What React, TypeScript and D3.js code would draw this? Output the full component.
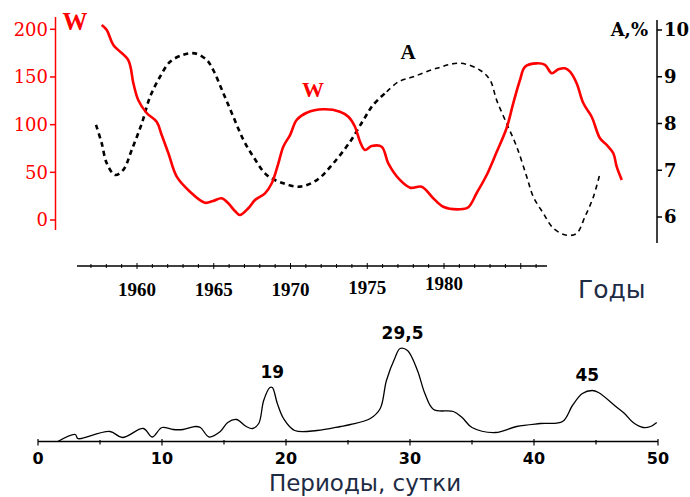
import React from "react";
import * as d3 from "d3";

// ---- Data: sunspot number W and amplitude A vs years ----
const wYears = [1957.7, 1958.03, 1958.46, 1959.43, 1959.76, 1960.08, 1960.63, 1961.28, 1961.61, 1962.04, 1962.59, 1963.45, 1964.43, 1964.95, 1965.52, 1965.95, 1966.38, 1966.71, 1967.25, 1967.69, 1968.34, 1968.78, 1969.21, 1969.53, 1969.97, 1970.4, 1971.06, 1972.14, 1973.22, 1973.77, 1974.2, 1974.53, 1974.85, 1975.29, 1975.94, 1976.37, 1977.13, 1977.79, 1978.55, 1979.3, 1979.95, 1981.04, 1981.58, 1982.13, 1982.78, 1983.43, 1984.08, 1984.51, 1984.95, 1985.28, 1986.04, 1986.58, 1987.02, 1987.45, 1987.88, 1988.21, 1988.64, 1989.08, 1989.62, 1990.16, 1990.6, 1991.03, 1991.25, 1991.58];
const wValues = [204.5, 199.3, 183.5, 167.8, 143.7, 125.9, 112.2, 103.1, 89.1, 70.3, 45.4, 29.7, 18.1, 19.9, 22.8, 17.5, 9.4, 5.2, 12.3, 21.0, 28.0, 38.5, 59.5, 76.9, 89.1, 104.9, 112.5, 116.1, 113.6, 108.3, 97.8, 82.1, 73.4, 77.6, 76.9, 59.5, 42.0, 33.9, 34.9, 22.8, 13.9, 11.2, 13.3, 28.3, 47.2, 71.3, 96.5, 122.4, 146.8, 160.8, 164.3, 162.6, 153.9, 158.0, 159.1, 155.5, 143.4, 122.4, 108.3, 85.7, 78.7, 70.0, 55.9, 42.0];

const aYears = [1957.33, 1957.7, 1958.03, 1958.57, 1959.11, 1959.65, 1960.31, 1960.85, 1961.5, 1962.15, 1963.02, 1963.78, 1964.54, 1964.97, 1965.62, 1966.27, 1966.93, 1967.58, 1968.45, 1969.53, 1970.62, 1971.71, 1972.79, 1973.88, 1974.74, 1975.39, 1976.27, 1977.02, 1978.0, 1979.52, 1981.04, 1982.35, 1983.0, 1983.43, 1984.08, 1984.74, 1985.39, 1985.82, 1986.47, 1987.12, 1987.99, 1988.64, 1989.19, 1989.73, 1990.16];
const aValues = [7.97, 7.58, 7.15, 6.9, 7.01, 7.43, 8.0, 8.57, 9.0, 9.32, 9.47, 9.5, 9.36, 9.14, 8.65, 8.15, 7.65, 7.29, 6.9, 6.72, 6.65, 6.79, 7.15, 7.61, 8.07, 8.4, 8.68, 8.89, 9.0, 9.18, 9.29, 9.14, 8.93, 8.5, 8.0, 7.5, 6.86, 6.43, 6.08, 5.76, 5.61, 5.65, 6.01, 6.43, 6.93];

const wTicks = [0, 50, 100, 150, 200];
const aTicks = [6, 7, 8, 9, 10];
const yearLabels = [1960, 1965, 1970, 1975, 1980];
const yearLabelDy = [0, 0, 0, -2, -6];

// ---- Data: spectrum vs period (days) ----
const periods = [1.6, 3.0, 3.2, 3.5, 5.8, 6.8, 8.5, 9.2, 10.0, 10.9, 11.7, 12.7, 13.1, 13.8, 14.7, 15.3, 16.0, 16.8, 17.3, 17.8, 18.2, 18.7, 18.9, 19.3, 19.8, 20.7, 22.5, 24.4, 25.2, 26.8, 27.6, 28.1, 28.8, 29.2, 29.8, 30.6, 31.2, 31.9, 33.5, 34.2, 35.0, 36.9, 38.6, 40.5, 42.3, 43.1, 43.9, 44.7, 45.2, 46.7, 47.3, 48.0, 48.8, 49.4, 49.9];
const power = [0, 7, 3, 3, 10, 4, 13, 4.5, 14, 12, 12, 15, 14, 4.5, 10, 19, 22, 15, 13, 18, 41, 54, 54, 38, 23, 11, 11, 15, 17, 23, 33, 61, 84, 93, 91, 71, 48, 32, 30, 24, 14, 9, 15, 18, 20, 36, 48, 51, 49, 34, 28, 19, 14, 15, 19];
const periodTicks = [0, 10, 20, 30, 40, 50];
const peakLabels = ["19", "29,5", "45"];
const peakPeriods = [18.9, 29.4, 44.3];
const peakPower = [54, 93, 51];

export default function App() {
  const xYear = d3.scaleLinear().domain([1960, 1980]).range([137, 444]);
  const yW = d3.scaleLinear().domain([0, 200]).range([220, 29.3]);
  const yA = d3.scaleLinear().domain([6, 10]).range([217, 30]);
  const xP = d3.scaleLinear().domain([0, 50]).range([38, 658]);
  const yP = d3.scaleLinear().domain([0, 100]).range([441.5, 341.5]);

  const wLine = d3
    .line<number>()
    .x((_, i) => xYear(wYears[i]))
    .y((d) => yW(d))
    .curve(d3.curveCatmullRom.alpha(0.5));
  const aLine = d3
    .line<[number, number]>()
    .x((d) => xYear(d[0]))
    .y((d) => yA(d[1]))
    .curve(d3.curveCatmullRom.alpha(0.5));
  const aPts: [number, number][] = aYears.map((y, i) => [y, aValues[i]]);
  const splitIdx = aYears.findIndex((y) => y >= 1976.27);
  const aLeft = aPts.slice(0, splitIdx + 1);
  const aRight = aPts.slice(splitIdx);

  const pLine = d3
    .line<number>()
    .x((_, i) => xP(periods[i]))
    .y((d) => yP(d))
    .curve(d3.curveCatmullRom.alpha(0.5));

  const minorYears = d3.range(1957, 1987);
  const serif = "'Liberation Serif', 'Times New Roman', serif";
  const dserif = "'DejaVu Serif', serif";
  const sans = "'DejaVu Sans', Verdana, sans-serif";
  const navy = "#1e2b45";

  return (
    <svg
      width={690}
      height={497}
      style={{ position: "absolute", left: 0, top: 0, background: "#fff" }}
    >
      <rect x={0} y={0} width={690} height={497} fill="#fff" />
      {/* Left W axis */}
      <line x1={55.5} x2={55.5} y1={17} y2={230} stroke="#ff0000" strokeWidth={1.5} />
      {wTicks.map((t) => (
        <g key={t}>
          <line x1={50} x2={55.5} y1={yW(t)} y2={yW(t)} stroke="#ff0000" strokeWidth={1.5} />
          <text
            x={48}
            y={yW(t)}
            dy="0.36em"
            textAnchor="end"
            fill="#ff0000"
            fontFamily={dserif}
            fontSize={18}
          >
            {t}
          </text>
        </g>
      ))}
      <text x={75} y={30} textAnchor="middle" fill="#ff0000" fontFamily={serif} fontSize={25} fontWeight="bold">
        W
      </text>

      {/* Right A axis */}
      <line x1={657} x2={657} y1={20} y2={243} stroke="#000" strokeWidth={1.5} />
      {aTicks.map((t) => (
        <g key={t}>
          <line x1={657} x2={662} y1={yA(t)} y2={yA(t)} stroke="#000" strokeWidth={1.5} />
          <text x={664} y={yA(t)} dy="0.36em" fill="#000" fontFamily={dserif} fontSize={18} fontWeight="bold">
            {t}
          </text>
        </g>
      ))}
      <text x={648} y={36} textAnchor="end" fill="#000" fontFamily={dserif} fontSize={18} fontWeight="bold">
        A,%
      </text>

      {/* Curves */}
      <path d={aLine(aLeft) || ""} fill="none" stroke="#000" strokeWidth={2.6} strokeDasharray="5,4" />
      <path d={aLine(aRight) || ""} fill="none" stroke="#000" strokeWidth={1.6} strokeDasharray="5,4" />
      <path d={wLine(wValues) || ""} fill="none" stroke="#ff0000" strokeWidth={2.6} />
      <text x={313} y={97} textAnchor="middle" fill="#ff0000" fontFamily={serif} fontSize={22} fontWeight="bold">
        W
      </text>
      <text x={408} y={59} textAnchor="middle" fill="#000" fontFamily={serif} fontSize={21} fontWeight="bold">
        A
      </text>

      {/* Year axis */}
      <line x1={77} x2={547} y1={266} y2={266} stroke="#000" strokeWidth={1.5} />
      {minorYears.map((y) => (
        <line
          key={y}
          x1={xYear(y)}
          x2={xYear(y)}
          y1={y % 5 === 0 ? 263 : 264}
          y2={y % 5 === 0 ? 269 : 268}
          stroke="#000"
          strokeWidth={1}
        />
      ))}
      {yearLabels.map((y, i) => (
        <text
          key={y}
          x={xYear(y)}
          y={296 + yearLabelDy[i]}
          textAnchor="middle"
          fill="#000"
          fontFamily={serif}
          fontSize={19}
          fontWeight="bold"
        >
          {y}
        </text>
      ))}
      <text x={578} y={298} fill={navy} fontFamily={sans} fontSize={25}>
        Годы
      </text>

      {/* Spectrum */}
      <path d={pLine(power) || ""} fill="none" stroke="#000" strokeWidth={1.3} />
      <line x1={xP(0)} x2={xP(50)} y1={441.5} y2={441.5} stroke="#000" strokeWidth={1.5} />
      {d3.range(0, 51, 5).map((t) => (
        <line
          key={t}
          x1={xP(t)}
          x2={xP(t)}
          y1={t % 10 === 0 ? 439 : 440}
          y2={t % 10 === 0 ? 445.5 : 444.5}
          stroke="#000"
          strokeWidth={1.2}
        />
      ))}
      {periodTicks.map((t) => (
        <text key={t} x={xP(t)} y={464} textAnchor="middle" fill="#000" fontFamily={sans} fontSize={16} fontWeight="bold">
          {t}
        </text>
      ))}
      {peakLabels.map((l, i) => (
        <text
          key={l}
          x={xP(peakPeriods[i])}
          y={yP(peakPower[i]) - 10}
          textAnchor="middle"
          fill="#000"
          fontFamily={sans}
          fontSize={17}
          fontWeight="bold"
        >
          {l}
        </text>
      ))}
      <text x={365} y={491} textAnchor="middle" fill={navy} fontFamily={sans} fontSize={23}>
        Периоды, сутки
      </text>
    </svg>
  );
}
